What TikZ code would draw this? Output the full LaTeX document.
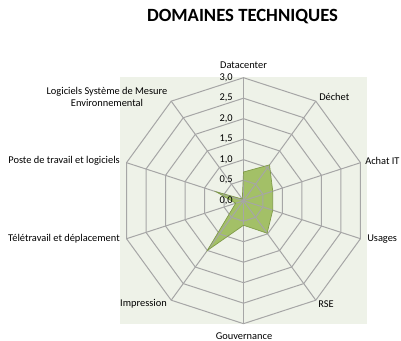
\documentclass[tikz,border=0pt]{standalone}
\usepackage{fontspec}
\setmainfont{Carlito}
\usetikzlibrary{calc}
\definecolor{plotbg}{HTML}{EEF2E8}
\definecolor{gridgray}{HTML}{A6A6A6}
\definecolor{serie}{HTML}{9BBB59}
\definecolor{seriedark}{HTML}{7F9A48}
\begin{document}
\begin{tikzpicture}[x=0.75pt,y=0.75pt,yscale=-1,
  lbl/.style={font=\fontsize{7.8}{9}\selectfont, inner sep=0.75pt},
  ticklbl/.style={lbl, anchor=east},
  gridline/.style={color=gridgray, line width=0.75pt}]
\useasboundingbox (0,0) rectangle (401,341);

% Plot area
\fill[plotbg] (120,77) rectangle (367,324);
\coordinate (c) at (243.5,200.7);

% Data polygon
\foreach \v [count=\k from 0] in {0.7,1.08,0.75,0.75,0.98,0.6,1.5,0.2,0.7,0.05}
  \coordinate (d\k) at ($(c)+(-90+36*\k:\v*41)$);
\fill[serie, fill opacity=0.9] (d0) -- (d1) -- (d2) -- (d3) -- (d4) -- (d5) -- (d6) -- (d7) -- (d8) -- (d9) -- cycle;

% Rings and spokes
\foreach \r in {1,...,6}
  \draw[gridline, shift={(c)}] (-90:\r*20.5) \foreach \k in {1,...,9}{ -- (-90+36*\k:\r*20.5)} -- cycle;
\foreach \k in {0,...,9}
  \draw[gridline] (c) -- ($(c)+(-90+36*\k:123)$);

\draw[seriedark, line width=0.5pt] (d0) -- (d1) -- (d2) -- (d3) -- (d4) -- (d5) -- (d6) -- (d7) -- (d8) -- (d9) -- cycle;

% Tick labels
\foreach \t [count=\i from 0] in {0{,}0,0{,}5,1{,}0,1{,}5,2{,}0,2{,}5,3{,}0}
  \node[ticklbl] (t\i) at (234,200.7-20.5*\i) {\t};

% Text Node
\node[font=\fontsize{14}{16}\selectfont\bfseries] (titre) at (242.5,17) {DOMAINES TECHNIQUES};
\node[lbl] (datacenter) at (243.5,65) {Datacenter};
\node[lbl, anchor=west] (dechet) at (318,97) {Déchet};
\node[lbl, anchor=west] (achat) at (364,161) {Achat IT};
\node[lbl, anchor=west] (usages) at (366,239) {Usages};
\node[lbl, anchor=west] (rse) at (317,304) {RSE};
\node[lbl] (gouv) at (244,336) {Gouvernance};
\node[lbl, anchor=east] (impression) at (168,304) {Impression};
\node[lbl, anchor=east] (teletravail) at (121,239) {Télétravail et déplacement};
\node[lbl, anchor=east] (poste) at (121,161) {Poste de travail et logiciels};
\node[lbl, align=center] (logiciels) at (107,96.5) {Logiciels Système de Mesure\\Environnemental};

\end{tikzpicture}
\end{document}
